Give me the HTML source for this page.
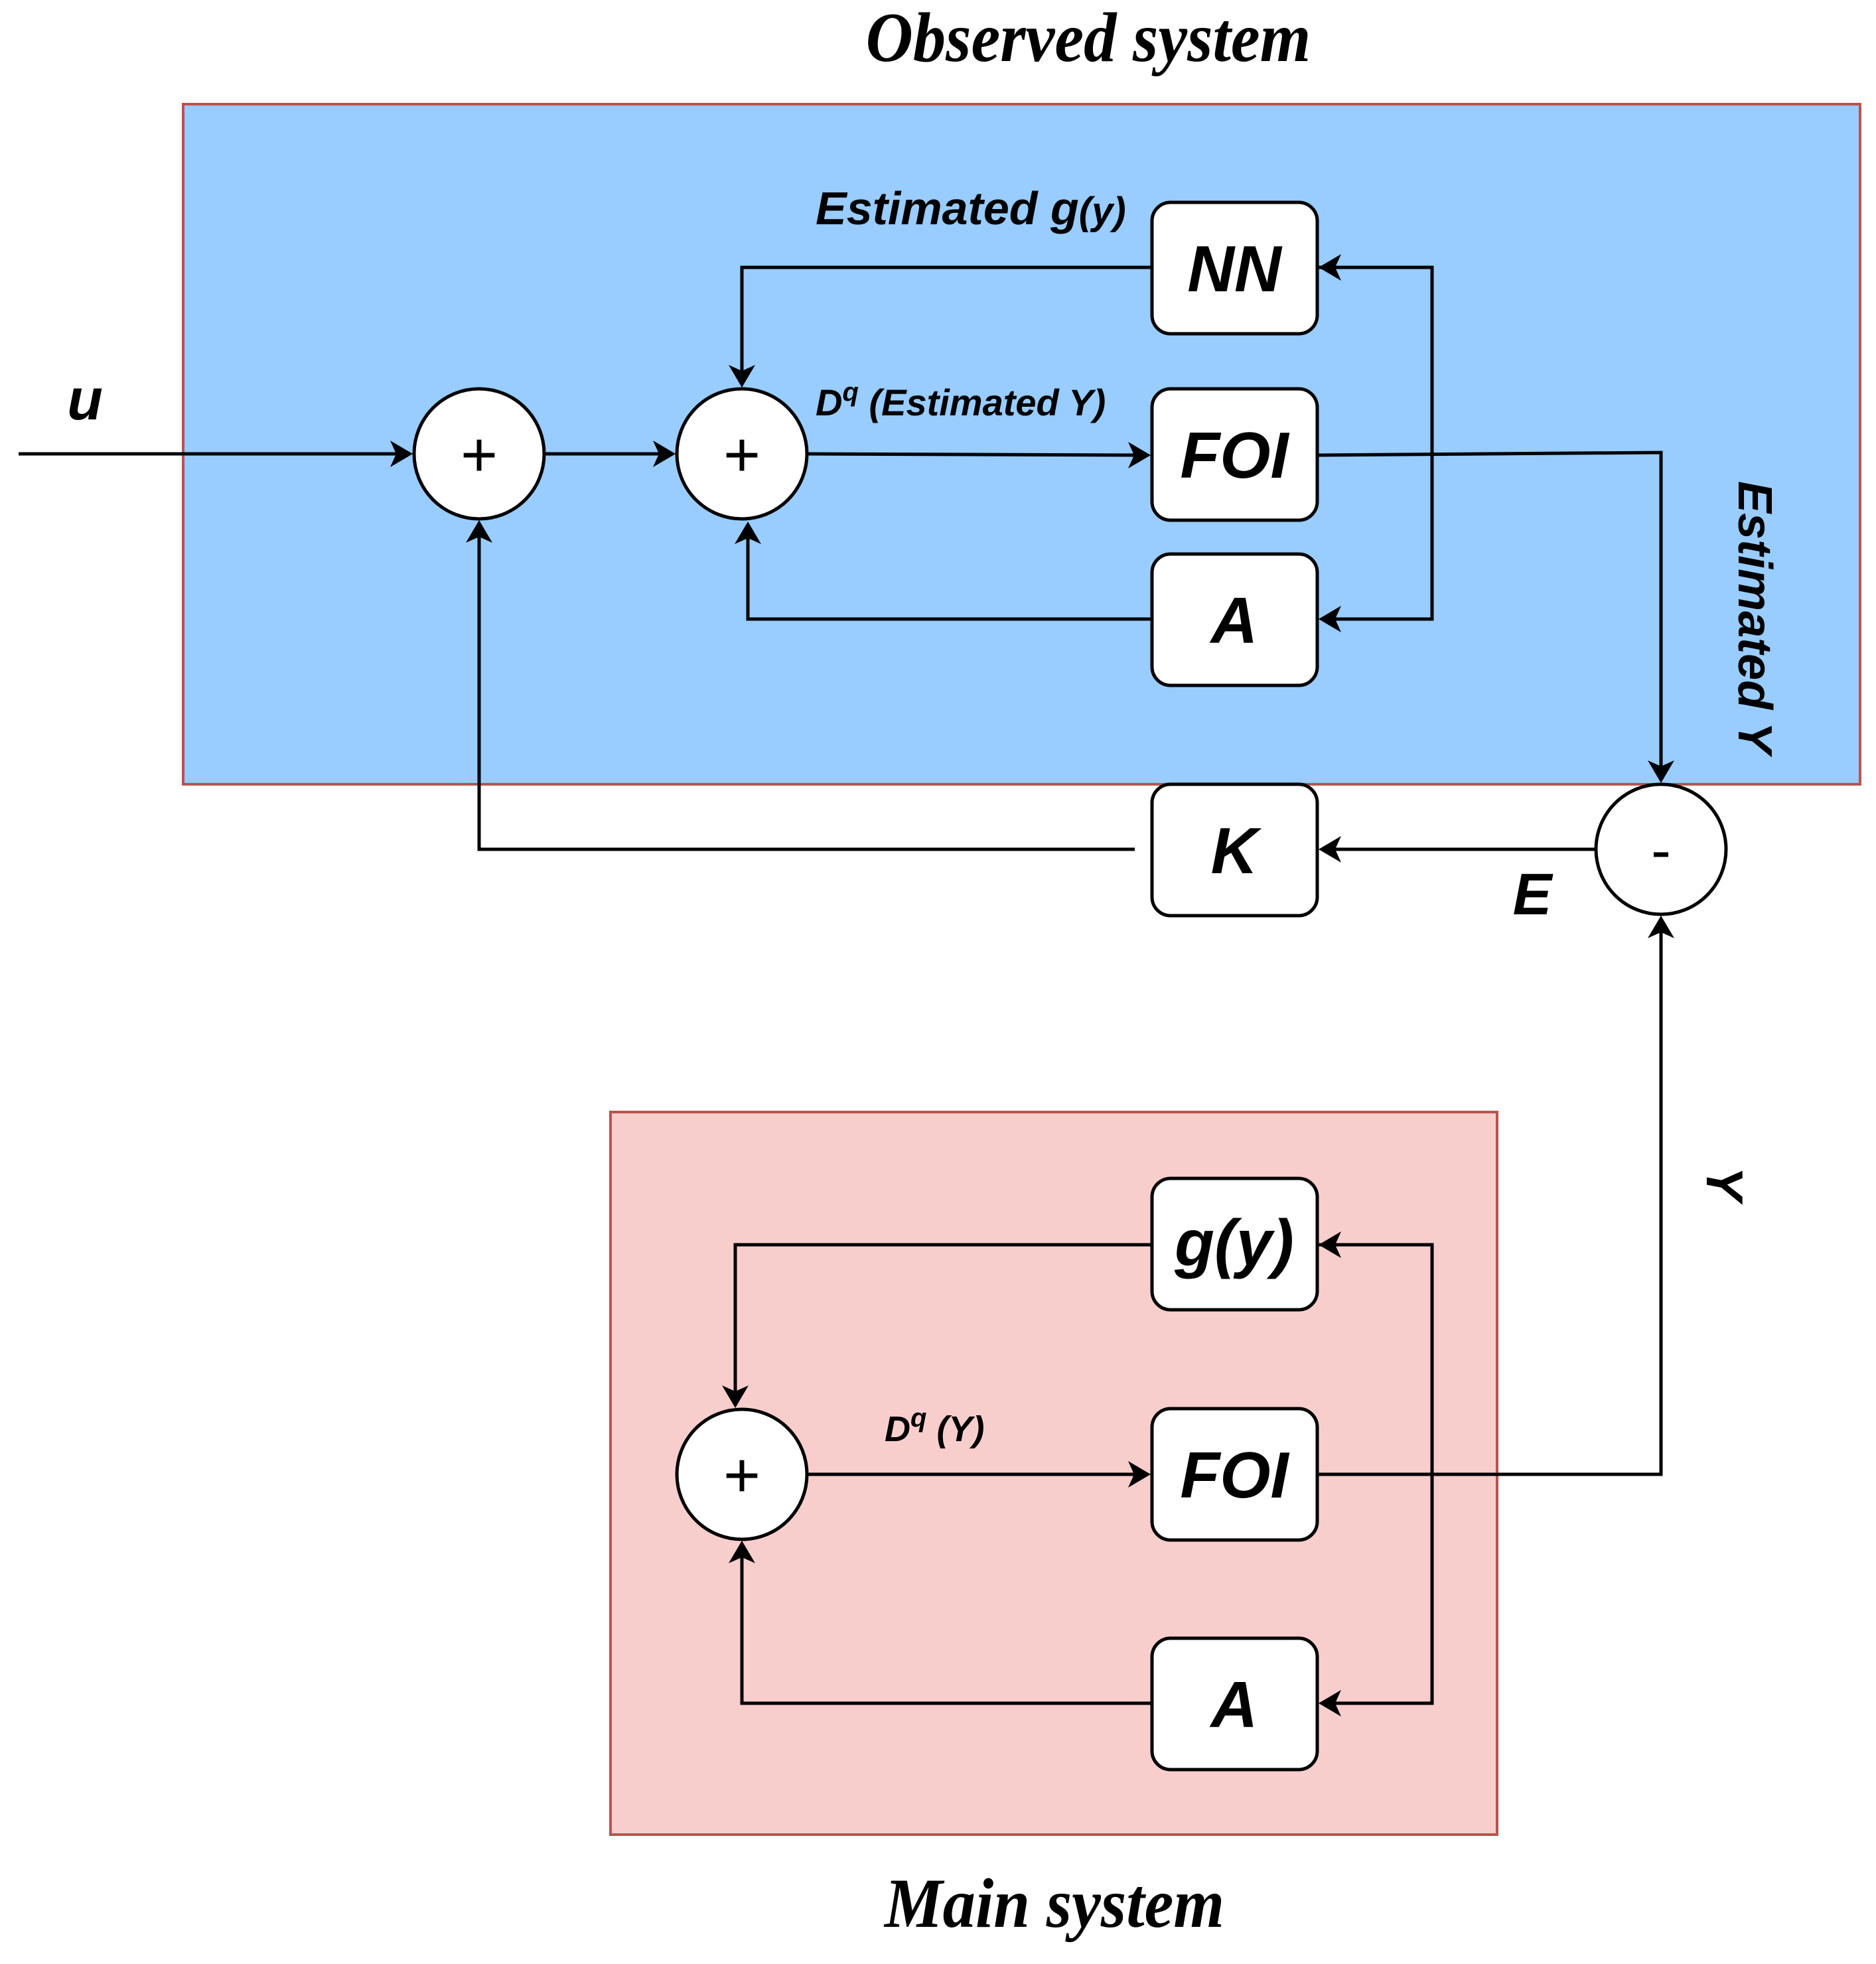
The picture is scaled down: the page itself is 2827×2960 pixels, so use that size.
<!DOCTYPE html>
<html><head><meta charset="utf-8"><style>html,body{margin:0;padding:0;background:#fff}</style></head>
<body>
<svg width="2827" height="2955" viewBox="0 0 2827 2955" xmlns="http://www.w3.org/2000/svg">
<g font-family="Liberation Serif, serif" font-weight="bold" font-style="italic" text-anchor="middle">
<text x="1640" y="92" font-size="106" transform="translate(1640 0) scale(0.93 1) translate(-1640 0)">Observed system</text>
<text x="1589" y="2904" font-size="106" transform="translate(1589 0) scale(0.93 1) translate(-1589 0)">Main system</text>
</g>
<rect x="276" y="157" width="2527" height="1025" fill="#99ccff" stroke="#b85450" stroke-width="4"/>
<rect x="920" y="1676" width="1336" height="1089" fill="#f8cecc" stroke="#b85450" stroke-width="4"/>

<g fill="none" stroke="#000" stroke-width="5">
<line x1="28" y1="684" x2="610" y2="684"/>
<line x1="820" y1="684" x2="1006" y2="684"/>
<line x1="1216" y1="684" x2="1722" y2="686"/>
<polyline points="1736,403 1118,403 1118,572"/>
<polyline points="1736,933 1127,933 1127,798"/>
<polyline points="1971,403 2158,403 2158,933 1999,933"/>
<polyline points="1985,686 2503,682 2503,1168"/>
<line x1="2405" y1="1280" x2="1999" y2="1280"/>
<polyline points="1710,1280 722,1280 722,796"/>
<polyline points="1736,1876 1108,1876 1108,2110"/>
<polyline points="1736,2567 1118,2567 1118,2334"/>
<polyline points="1971,1876 2158,1876 2158,2567 1999,2567"/>
<line x1="1216" y1="2222" x2="1722" y2="2222"/>
<polyline points="1985,2222 2503,2222 2503,1392"/>
</g>
<g fill="#000">
<path d="M622,684 l-34,-20 l9,20 l-9,20z"/>
<path d="M1018,684 l-34,-20 l9,20 l-9,20z"/>
<path d="M1734,686 l-34,-20 l9,20 l-9,20z"/>
<path d="M1118,584 l-20,-34 l20,9 l20,-9z"/>
<path d="M1127,786 l-20,34 l20,-9 l20,9z"/>
<path d="M1987,403 l34,-20 l-9,20 l9,20z"/>
<path d="M1987,933 l34,-20 l-9,20 l9,20z"/>
<path d="M2503,1180 l-20,-34 l20,9 l20,-9z"/>
<path d="M1987,1280 l34,-20 l-9,20 l9,20z"/>
<path d="M722,784 l-20,34 l20,-9 l20,9z"/>
<path d="M1108,2122 l-20,-34 l20,9 l20,-9z"/>
<path d="M1118,2322 l-20,34 l20,-9 l20,9z"/>
<path d="M1987,1876 l34,-20 l-9,20 l9,20z"/>
<path d="M1987,2567 l34,-20 l-9,20 l9,20z"/>
<path d="M1734,2222 l-34,-20 l9,20 l-9,20z"/>
<path d="M2503,1380 l-20,34 l20,-9 l20,9z"/>
</g>
<g fill="#fff" stroke="#000" stroke-width="5">
<circle cx="722" cy="684" r="98"/>
<circle cx="1118" cy="684" r="98"/>
<circle cx="2503" cy="1280" r="98"/>
<circle cx="1118" cy="2222" r="98"/>
<rect x="1736" y="305" width="249" height="198" rx="28"/>
<rect x="1736" y="586" width="249" height="198" rx="28"/>
<rect x="1736" y="835" width="249" height="198" rx="28"/>
<rect x="1736" y="1182" width="249" height="198" rx="28"/>
<rect x="1736" y="1776" width="249" height="198" rx="28"/>
<rect x="1736" y="2123" width="249" height="198" rx="28"/>
<rect x="1736" y="2469" width="249" height="198" rx="28"/>
</g>
<g font-family="Liberation Sans, sans-serif" text-anchor="middle" fill="#000">
<text x="722" y="718" font-size="96">+</text>
<text x="1118" y="718" font-size="96">+</text>
<text x="1118" y="2256" font-size="96">+</text>
<text x="2503" y="1312" font-size="90">-</text>
<g font-weight="bold" font-style="italic" font-size="98">
<text x="1860" y="439">NN</text>
<text x="1860" y="720">FOI</text>
<text x="1860" y="969">A</text>
<text x="1860" y="1316">K</text>
<text x="1860" y="1907">g(y)</text>
<text x="1860" y="2257">FOI</text>
<text x="1860" y="2603">A</text>
<text x="128" y="632" font-size="88">u</text>
<text x="2309" y="1378" font-size="88">E</text>
</g>
<g font-weight="bold" font-style="italic" text-anchor="start">
<text x="1229" y="338" font-size="70">Estimated g<tspan font-size="58">(y)</tspan></text>
<text x="1229" y="626" font-size="56">D<tspan font-size="40" dy="-22">q</tspan><tspan dy="22"> (Estimated Y)</tspan></text>
<text x="1333" y="2172" font-size="54">D<tspan font-size="40" dy="-22">q</tspan><tspan dy="22"> (Y)</tspan></text>
<text transform="translate(2620 725) rotate(90)" font-size="72">Estimated Y</text>
<text transform="translate(2572 1758) rotate(90)" font-size="78">Y</text>
</g>
</g>
</svg>
</body></html>
